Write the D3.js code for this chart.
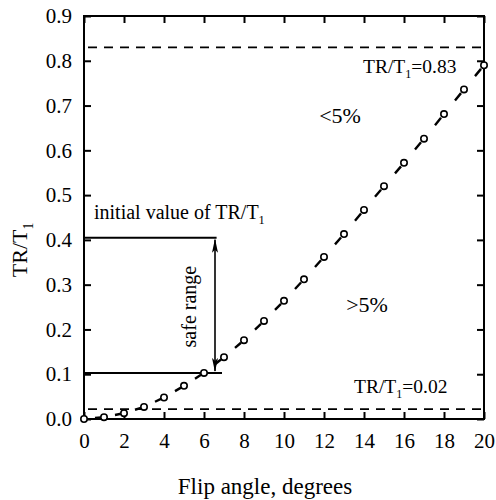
<!DOCTYPE html>
<html>
<head>
<meta charset="utf-8">
<script src="https://cdn.jsdelivr.net/npm/d3@7"></script>
<style>
  body { margin: 0; background: #fff; }
  svg { display: block; }
  svg text { font-family: 'Liberation Serif', 'Times New Roman', Times, serif; }
</style>
</head>
<body>
<div id="chart"></div>
<script>
// flip angle (degrees) and measured TR/T1
var angles = [0, 1, 2, 3, 4, 5, 6, 7, 8, 9, 10, 11, 12, 13, 14, 15, 16, 17, 18, 19, 20];
var ratios = [0.000, 0.004, 0.013, 0.027, 0.048, 0.074, 0.103, 0.138, 0.176, 0.219, 0.264,
              0.312, 0.362, 0.413, 0.467, 0.520, 0.572, 0.626, 0.681, 0.736, 0.790];

var xTicks = [0, 2, 4, 6, 8, 10, 12, 14, 16, 18, 20];
var yTicks = [0, 0.1, 0.2, 0.3, 0.4, 0.5, 0.6, 0.7, 0.8, 0.9];

// horizontal limits and the safe-range bracket
var limits = [0.83, 0.022];
var bracketValues = [0.405, 0.103];
var bracketEnds = [6.63, 6.9];
var arrowAngle = 6.55;

var width = 496, height = 500;
var margin = { top: 16, right: 12, bottom: 81, left: 84 };
var serif = "'Liberation Serif', 'Times New Roman', Times, serif";

var x = d3.scaleLinear().domain([0, 20]).range([margin.left, width - margin.right]);
var y = d3.scaleLinear().domain([0, 0.9]).range([height - margin.bottom, margin.top]);

var svg = d3.select('#chart').append('svg')
  .attr('width', width)
  .attr('height', height)
  .attr('font-family', serif);

svg.append('defs').append('marker')
  .attr('id', 'head')
  .attr('viewBox', '0 0 14 6')
  .attr('refX', 13)
  .attr('refY', 3)
  .attr('markerWidth', 14)
  .attr('markerHeight', 6)
  .attr('markerUnits', 'userSpaceOnUse')
  .attr('orient', 'auto-start-reverse')
  .append('path')
  .attr('d', 'M0,0 L14,3 L0,6 L3,3 Z')
  .attr('fill', '#000');

function styleAxis(g) {
  g.attr('font-family', serif).attr('font-size', null);
  g.select('.domain').remove();
  g.selectAll('line').attr('stroke', '#000').attr('stroke-width', 2);
  g.selectAll('text')
    .attr('fill', '#000')
    .style('font-size', '21px');
}

// axes with inward ticks on all four sides
svg.append('g')
  .attr('transform', 'translate(0,' + y(0) + ')')
  .call(d3.axisBottom(x).tickValues(xTicks).tickSize(-7).tickPadding(14).tickFormat(d3.format('d')))
  .call(styleAxis);

svg.append('g')
  .attr('transform', 'translate(0,' + y(0.9) + ')')
  .call(d3.axisTop(x).tickValues(xTicks).tickSize(-7).tickFormat(''))
  .call(styleAxis);

svg.append('g')
  .attr('transform', 'translate(' + x(0) + ',0)')
  .call(d3.axisLeft(y).tickValues(yTicks).tickSize(-7).tickPadding(12).tickFormat(d3.format('.1f')))
  .call(styleAxis);

svg.append('g')
  .attr('transform', 'translate(' + x(20) + ',0)')
  .call(d3.axisRight(y).tickValues(yTicks).tickSize(-7).tickFormat(''))
  .call(styleAxis);

svg.append('rect')
  .attr('x', x(0))
  .attr('y', y(0.9))
  .attr('width', x(20) - x(0))
  .attr('height', y(0) - y(0.9))
  .attr('fill', 'none')
  .attr('stroke', '#000')
  .attr('stroke-width', 2);

// dashed limit lines
svg.selectAll('.limit')
  .data(limits)
  .enter().append('line')
  .attr('class', 'limit')
  .attr('x1', x(0) + 4)
  .attr('x2', x(20))
  .attr('y1', function (d) { return y(d); })
  .attr('y2', function (d) { return y(d); })
  .attr('stroke', '#000')
  .attr('stroke-width', 1.8)
  .attr('stroke-dasharray', '9,7');

// bracket lines and double arrow
svg.selectAll('.bracket')
  .data(bracketValues)
  .enter().append('line')
  .attr('class', 'bracket')
  .attr('x1', x(0))
  .attr('x2', function (d, i) { return x(bracketEnds[i]); })
  .attr('y1', function (d) { return y(d); })
  .attr('y2', function (d) { return y(d); })
  .attr('stroke', '#000')
  .attr('stroke-width', 2);

svg.append('line')
  .attr('x1', x(arrowAngle))
  .attr('x2', x(arrowAngle))
  .attr('y1', y(bracketValues[0]) + 2)
  .attr('y2', y(bracketValues[1]) - 2)
  .attr('stroke', '#000')
  .attr('stroke-width', 1.6)
  .attr('marker-start', 'url(#head)')
  .attr('marker-end', 'url(#head)');

// dashed connector: one dash per interval, just before the next point
var pts = angles.map(function (a, i) { return [x(a), y(ratios[i])]; });
var segs = d3.pairs(pts);
svg.selectAll('.seg')
  .data(segs)
  .enter().append('line')
  .attr('class', 'seg')
  .attr('x1', function (d) { return d[0][0]; })
  .attr('y1', function (d) { return d[0][1]; })
  .attr('x2', function (d) { return d[1][0]; })
  .attr('y2', function (d) { return d[1][1]; })
  .attr('stroke', '#000')
  .attr('stroke-width', 2.4)
  .attr('stroke-dasharray', function (d) {
    var len = Math.hypot(d[1][0] - d[0][0], d[1][1] - d[0][1]);
    return '0,' + (len * 0.55) + ',' + (len * 0.3) + ',' + (len * 2);
  });

svg.selectAll('.pt')
  .data(pts)
  .enter().append('circle')
  .attr('class', 'pt')
  .attr('cx', function (d) { return d[0]; })
  .attr('cy', function (d) { return d[1]; })
  .attr('r', 3.2)
  .attr('fill', '#fff')
  .attr('stroke', '#000')
  .attr('stroke-width', 1.6);

// text with a subscript 1
function subText(g, before, after, size) {
  g.append('tspan').text(before);
  g.append('tspan').attr('dy', size * 0.28).style('font-size', (size * 0.62) + 'px').text('1');
  if (after) {
    g.append('tspan').attr('dy', -size * 0.28).text(after);
  }
}

var t1 = svg.append('text')
  .attr('x', x(13.95)).attr('y', y(0.773))
  .style('font-size', '19.5px');
subText(t1, 'TR/T', '=0.83', 19.5);

var t2 = svg.append('text')
  .attr('x', x(13.5)).attr('y', y(0.058))
  .style('font-size', '19.5px');
subText(t2, 'TR/T', '=0.02', 19.5);

var t3 = svg.append('text')
  .attr('x', x(0.5)).attr('y', y(0.447))
  .style('font-size', '20px');
subText(t3, 'initial value of TR/T', null, 20);

svg.append('text')
  .attr('x', x(12.8)).attr('y', y(0.661))
  .attr('text-anchor', 'middle')
  .style('font-size', '22px')
  .text('<5%');

svg.append('text')
  .attr('x', x(14.15)).attr('y', y(0.239))
  .attr('text-anchor', 'middle')
  .style('font-size', '22px')
  .text('>5%');

svg.append('text')
  .attr('transform', 'translate(' + (x(5.6)) + ',' + y(0.251) + ') rotate(-90)')
  .attr('text-anchor', 'middle')
  .style('font-size', '20px')
  .text('safe range');

// axis titles
svg.append('text')
  .attr('x', 265).attr('y', 494)
  .attr('text-anchor', 'middle')
  .style('font-size', '23px')
  .text('Flip angle, degrees');

var yl = svg.append('text')
  .attr('transform', 'translate(27,' + 250 + ') rotate(-90)')
  .attr('text-anchor', 'middle')
  .style('font-size', '22px');
subText(yl, 'TR/T', null, 22);
</script>
</body>
</html>
